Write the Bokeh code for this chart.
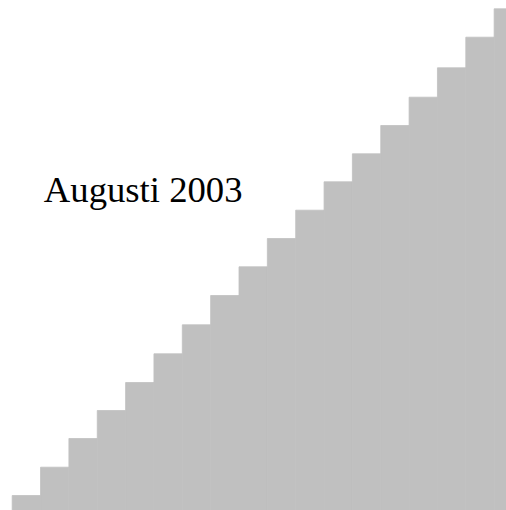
from bokeh.plotting import figure
from bokeh.models import ColumnDataSource, Range1d, Label
from bokeh.embed import file_html
from bokeh.resources import INLINE

# Data (step index and bar height)
steps = list(range(18))
heights = [15, 43.3, 72, 100, 128, 156.7, 185.7, 215, 243.7, 272,
           300.3, 328.7, 356.7, 385, 413.3, 442.7, 473.3, 501.7]
title_text = "Augusti 2003"

W, H = 506, 510
step_px = 28.35
offset_px = 11.7

p = figure(width=W, height=H, output_backend="svg", toolbar_location=None,
           x_range=Range1d(-offset_px / step_px, (W - offset_px) / step_px),
           y_range=Range1d(0, H),
           min_border=0, min_border_left=0, min_border_right=0,
           min_border_top=0, min_border_bottom=0)
p.axis.visible = False
p.grid.visible = False
p.outline_line_color = None
p.background_fill_color = "white"
p.border_fill_color = "white"

src = ColumnDataSource(dict(x=[s + 0.5 for s in steps], top=heights))
p.vbar(x="x", top="top", bottom=0, width=1.0, source=src,
       fill_color="#C0C0C0", line_color="#C0C0C0", line_width=0.8)

p.add_layout(Label(x=43.3, y=H - 189.3, x_units="screen", y_units="screen",
                   text=title_text, text_font="Liberation Serif",
                   text_font_size="36.7px", text_color="black",
                   text_baseline="alphabetic", text_align="left"))

open("out.html", "w").write(file_html(p, INLINE))
